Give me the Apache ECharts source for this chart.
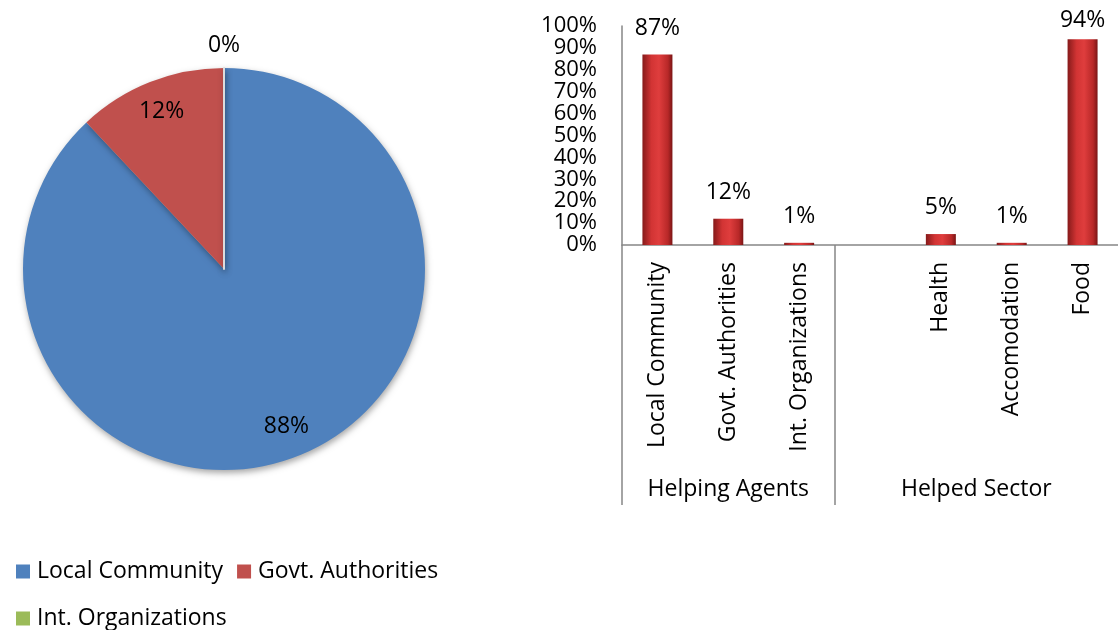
<!DOCTYPE html>
<html>
<head>
<meta charset="utf-8">
<script src="https://cdn.jsdelivr.net/npm/echarts@6/dist/echarts.min.js"></script>
<style>
html, body { margin: 0; padding: 0; background: #fff; }
#chart { width: 1118px; height: 630px; }
</style>
</head>
<body>
<div id="chart"></div>
<script>
// pie: who helped
const pieNames = ['Local Community', 'Govt. Authorities', 'Int. Organizations'];
const pieValues = [88, 12, 0];
const pieColors = ['#4F81BD', '#C0504D', '#9BBB59'];

// bar: agents + sectors (blank slot between the two groups)
const barCategories = ['Local Community', 'Govt. Authorities', 'Int. Organizations', '', 'Health', 'Accomodation', 'Food'];
const barValues = [87, 12, 1, null, 5, 1, 94];
const groupNames = ['Helping Agents', 'Helped Sector'];
const groupSizes = [3, 4];

const yTicks = [0, 10, 20, 30, 40, 50, 60, 70, 80, 90, 100];

const FONT = 'Open Sans';
const chart = echarts.init(document.getElementById('chart'));

// group boundaries and centres on the 0..7 value axis
const groupEdges = [0];
groupSizes.forEach(function (s, i) { groupEdges.push(groupEdges[i] + s); });
const groupCenters = groupSizes.map(function (s, i) { return groupEdges[i] + s / 2; });

const barColor = new echarts.graphic.LinearGradient(0, 0, 1, 0, [
    { offset: 0, color: '#861a1a' },
    { offset: 0.3, color: '#d23434' },
    { offset: 0.55, color: '#df3d3d' },
    { offset: 0.85, color: '#b82828' },
    { offset: 1, color: '#7a1515' }
]);

const pieData = pieNames.map(function (n, i) {
    const item = { name: n, value: pieValues[i], itemStyle: { color: pieColors[i] } };
    if (pieValues[i] === 0) {
        item.itemStyle.borderColor = '#dcdcdc';
        item.itemStyle.borderWidth = 2;
    }
    return item;
});
const ghostData = pieNames.map(function (n, i) {
    return { name: n, value: pieValues[i] };
});

const legendText = { fontFamily: FONT, fontSize: 23, color: '#000', padding: [0, 0, 0, 2] };

const option = {
    animation: false,
    textStyle: { fontFamily: FONT },
    legend: [
        {
            data: pieNames.slice(0, 2),
            left: 11, top: 555,
            icon: 'rect', itemWidth: 14, itemHeight: 14, itemGap: 14,
            itemStyle: { borderWidth: 0 },
            textStyle: legendText
        },
        {
            data: pieNames.slice(2),
            left: 11, top: 602,
            icon: 'rect', itemWidth: 14, itemHeight: 14,
            itemStyle: { borderWidth: 0 },
            textStyle: legendText
        }
    ],
    grid: { left: 622, top: 26, width: 501, height: 219 },
    xAxis: [
        {
            type: 'category',
            data: barCategories,
            axisLine: { lineStyle: { color: '#868686', width: 1.5 } },
            axisTick: { show: false },
            axisLabel: { rotate: 90, margin: 17, interval: 0, fontSize: 23, color: '#000', fontFamily: FONT }
        },
        {
            type: 'value',
            min: 0, max: groupEdges[groupEdges.length - 1],
            position: 'bottom',
            axisLine: { show: false },
            splitLine: { show: false },
            axisTick: {
                show: true, inside: false, length: 260,
                customValues: groupEdges.slice(0, -1),
                lineStyle: { color: '#868686', width: 1.5 }
            },
            axisLabel: {
                customValues: groupCenters,
                margin: 233, fontSize: 23, color: '#000', fontFamily: FONT,
                formatter: function (v) {
                    const i = groupCenters.indexOf(v);
                    return i >= 0 ? groupNames[i] : '';
                }
            }
        }
    ],
    yAxis: {
        type: 'value',
        min: 0, max: 100, interval: 10,
        axisLine: { show: true, lineStyle: { color: '#868686', width: 1.5 } },
        axisTick: { show: false },
        splitLine: { show: false },
        axisLabel: {
            margin: 25, fontSize: 22, color: '#000', fontFamily: FONT,
            customValues: yTicks,
            formatter: '{value}%'
        }
    },
    series: [
        {
            type: 'bar',
            xAxisIndex: 0,
            yAxisIndex: 0,
            data: barValues.map(function (v) {
                if (v === 94) return { value: v, label: { distance: 7 } };
                return v;
            }),
            barWidth: 30,
            itemStyle: { color: barColor },
            label: {
                show: true, position: 'top', distance: 15,
                formatter: '{c}%', fontSize: 23, color: '#000', fontFamily: FONT
            }
        },
        {
            type: 'pie',
            center: [224, 269],
            radius: 201,
            startAngle: 90,
            label: { show: false },
            labelLine: { show: false },
            itemStyle: {
                shadowBlur: 6, shadowOffsetY: 3, shadowOffsetX: 1,
                shadowColor: 'rgba(0,0,0,0.35)'
            },
            data: pieData
        },
        {
            // inner label ring
            type: 'pie',
            center: [224, 269],
            radius: [132, 201],
            startAngle: 90,
            silent: true,
            avoidLabelOverlap: false,
            itemStyle: { color: 'rgba(0,0,0,0)' },
            label: {
                show: true, position: 'inside', fontSize: 23, color: '#000', fontFamily: FONT,
                formatter: function (p) { return p.value > 0 ? p.percent + '%' : ''; }
            },
            labelLine: { show: false },
            data: ghostData
        },
        {
            // outer label ring for the empty slice
            type: 'pie',
            center: [224, 269],
            radius: [201, 241],
            startAngle: 90,
            silent: true,
            avoidLabelOverlap: false,
            itemStyle: { color: 'rgba(0,0,0,0)' },
            label: {
                show: true, position: 'inside', fontSize: 23, color: '#000', fontFamily: FONT,
                formatter: function (p) { return p.value === 0 ? p.percent + '%' : ''; }
            },
            labelLine: { show: false },
            data: ghostData
        }
    ]
};

chart.setOption(option);
</script>
</body>
</html>
